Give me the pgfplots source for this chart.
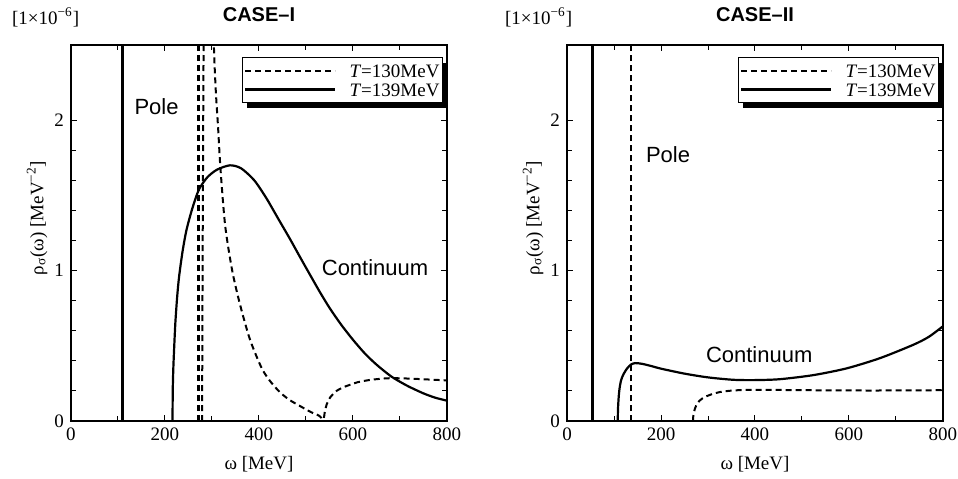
\documentclass[border=0pt]{standalone}
\usepackage{fontspec}
\setmainfont{Liberation Serif}
\newfontfamily\hsans{Liberation Sans}
\usepackage{pgfplots}
\pgfplotsset{compat=1.18}
\usetikzlibrary{shadows}
\makeatletter
\tikzset{no preactions/.code={\let\tikz@preactions\pgfutil@empty}}
\makeatother

\pgfplotsset{
  casestyle/.style={
    scale only axis, width=188pt, height=188pt,
    xmin=0, xmax=800, ymin=0, ymax=2.5,
    xtick={0,200,...,800}, minor x tick num=1,
    ytick={0,1,2}, minor y tick num=4,
    xtick pos=both, ytick pos=both, tick align=inside,
    major tick length=3pt, minor tick length=2.5pt,
    axis line style={line width=1pt},
    every tick/.style={line width=0.5pt, black},
    /pgf/number format/assume math mode=true,
    tick label style={font=\fontsize{9.5}{10}\selectfont},
    xlabel={ω [MeV]},
    ylabel={ρ\textsubscript{σ}(ω) [MeV\textsuperscript{−2}]},
    label style={font=\fontsize{9.5}{10}\selectfont},
    x label style={at={(axis description cs:0.5,0)}, anchor=base, yshift=-24pt},
    y label style={at={(axis description cs:-0.09,0.54)}, anchor=center},
    title style={font=\hsans\bfseries\fontsize{10}{12}\selectfont,
                 at={(axis description cs:0.5,1)}, anchor=base, yshift=6pt},
    legend style={at={(rel axis cs:1,1)}, anchor=north east, xshift=-2pt, yshift=-6pt,
                  draw=black, line width=0.5pt, fill=white,
                  inner xsep=1pt, inner ysep=2pt,
                  font=\fontsize{9.5}{10}\selectfont,
                  nodes={inner sep=0.5pt, text height=7.5pt, text depth=0.8pt},
                  row sep=0pt, column sep=6pt,
                  drop shadow={shadow xshift=2.5pt, shadow yshift=-2.5pt, fill=black, opacity=1}},
    legend image code/.code={\draw[no preactions,#1] (0pt,0pt) -- (45pt,0pt);},
  },
  dsh/.style={black, line width=1pt, dash pattern=on 3pt off 2pt},
  sld/.style={black, line width=1.1pt},
}

\begin{document}
\begin{tikzpicture}
\path[use as bounding box] (-35.5pt,-28.5pt) rectangle (443.5pt,210.5pt);

% ---------------- CASE-I ----------------
\begin{axis}[casestyle, name=L, title={CASE–I}]
\addplot[dsh, smooth, tension=0.45] coordinates {
 (279,0) (279.5,0.6) (280.5,1.4) (282,2.4) (284,3.2) (287,4.0) (290,4.4)
 (295,3.9) (300,3.1) (304,2.5) (308,2.2) (313,1.95) (318,1.68) (328,1.3)
 (343,1.0) (360,0.77) (381,0.54) (406,0.35) (425,0.26) (445,0.19) (465,0.14)
 (487,0.10) (510,0.06) (528,0.035) (537,0.01) (540,0.06) (544,0.11) (551,0.155)
 (565,0.2) (580,0.225) (593,0.24) (610,0.258) (636,0.273) (660,0.281) (682,0.285)
 (720,0.282) (760,0.276) (800,0.27)};
\addlegendentry{\textit{T}=130MeV\hspace{6pt}}
\addplot[sld, smooth, tension=0.45] coordinates {
 (216,0) (216.5,0.2) (217.5,0.33) (219,0.45) (222,0.65) (226,0.83) (230,0.96)
 (237,1.12) (245,1.26) (255,1.38) (265,1.48) (274,1.55) (290,1.62) (310,1.67)
 (338,1.70) (362,1.68) (390,1.6) (416,1.48) (440,1.35) (466,1.21) (490,1.075)
 (509,0.97) (530,0.855) (551,0.748) (575,0.64) (600,0.54) (625,0.45) (650,0.375)
 (682,0.295) (715,0.235) (749,0.185) (775,0.155) (800,0.135)};
\addlegendentry{\textit{T}=139MeV\hspace{6pt}}
\addplot[dsh, forget plot] coordinates {(0,0) (279,0)};
\addplot[sld, forget plot] coordinates {(0,0) (216,0)};
\addplot[dsh, line width=1.2pt, forget plot] coordinates {(271,0) (271,2.6)};
\addplot[sld, line width=1.5pt, forget plot] coordinates {(110,0) (110,2.6)};
\node[font=\hsans\fontsize{11}{12}\selectfont] at (axis cs:182,2.09) {Pole};
\node[font=\hsans\fontsize{11}{12}\selectfont] at (axis cs:647,1.02) {Continuum};
\end{axis}
\node[anchor=base west, font=\fontsize{9.5}{12}\selectfont] at ([xshift=-33pt,yshift=10.5pt]L.north west) {[1×10\textsuperscript{−6}]};

% ---------------- CASE-II ----------------
\begin{axis}[casestyle, name=R, at={(248pt,0pt)}, anchor=south west, title={CASE–II}]
\addplot[dsh, smooth, tension=0.45] coordinates {
 (268,0) (269,0.04) (272,0.08) (276,0.11) (282,0.135) (288,0.15) (297,0.165)
 (310,0.18) (326,0.193) (350,0.202) (382,0.207) (430,0.207) (500,0.205)
 (600,0.203) (700,0.203) (800,0.205)};
\addlegendentry{\textit{T}=130MeV\hspace{6pt}}
\addplot[sld, smooth, tension=0.45] coordinates {
 (108,0) (108.5,0.08) (110,0.16) (112,0.22) (115,0.27) (120,0.31) (128,0.35)
 (136,0.375) (145,0.385) (160,0.38) (180,0.365) (200,0.348) (250,0.315)
 (300,0.29) (354,0.274) (400,0.272) (453,0.278) (524,0.305) (595,0.35)
 (666,0.418) (737,0.507) (770,0.56) (800,0.63)};
\addlegendentry{\textit{T}=139MeV\hspace{6pt}}
\addplot[dsh, forget plot] coordinates {(0,0) (268,0)};
\addplot[sld, forget plot] coordinates {(0,0) (108,0)};
\addplot[dsh, line width=1.2pt, forget plot] coordinates {(136,0) (136,2.6)};
\addplot[sld, line width=1.5pt, forget plot] coordinates {(55,0) (55,2.6)};
\node[font=\hsans\fontsize{11}{12}\selectfont] at (axis cs:215,1.77) {Pole};
\node[font=\hsans\fontsize{11}{12}\selectfont] at (axis cs:409,0.44) {Continuum};
\end{axis}
\node[anchor=base west, font=\fontsize{9.5}{12}\selectfont] at ([xshift=-34.5pt,yshift=10.5pt]R.north west) {[1×10\textsuperscript{−6}]};
\end{tikzpicture}
\end{document}
